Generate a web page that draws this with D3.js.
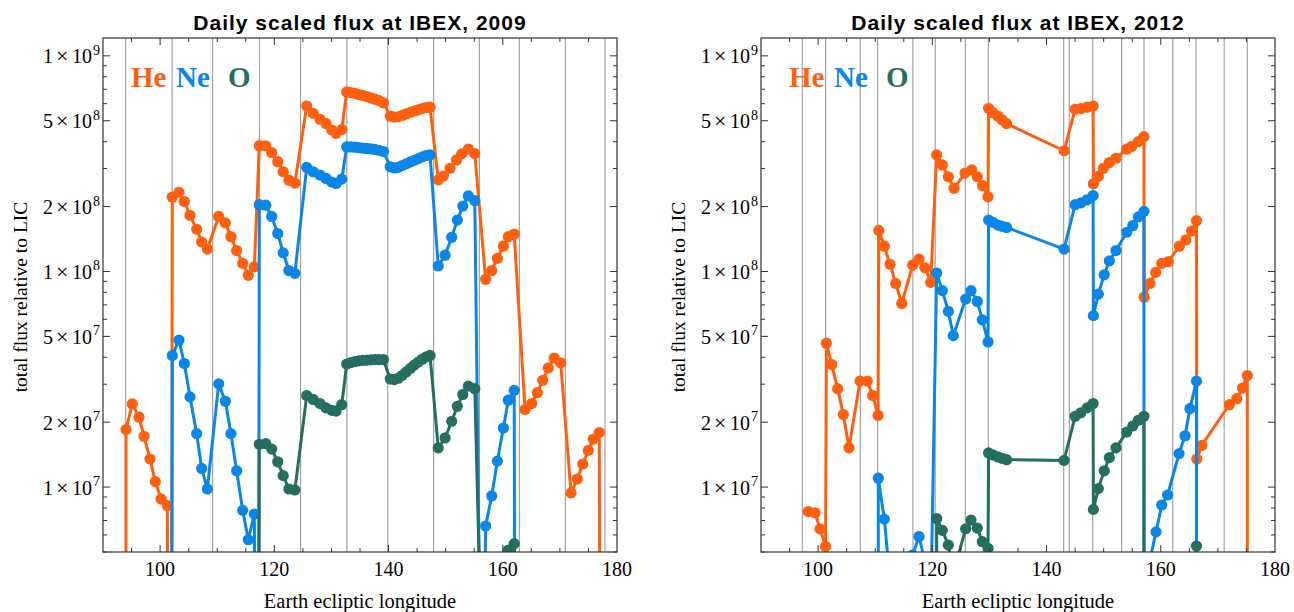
<!DOCTYPE html>
<html>
<head>
<meta charset="utf-8">
<script src="https://cdn.jsdelivr.net/npm/d3@7"></script>
<style>
  body { margin: 0; background: #fff; }
  svg { display: block; }
</style>
</head>
<body>
<svg id="chart" width="1294" height="612"></svg>
<script>
// ---- data ----
const xTicks = [100, 120, 140, 160, 180];
const yLabelTicks = [1e7, 2e7, 5e7, 1e8, 2e8, 5e8, 1e9];
const species = ["He", "Ne", "O"];
const titles = ["Daily scaled flux at IBEX, 2009", "Daily scaled flux at IBEX, 2012"];

// orbit boundaries (vertical grey lines), ecliptic longitude
const grid2009 = [93.97, 102.1, 109.2, 117.4, 124.6, 132.7, 139.85, 147.9, 155.9, 162.9, 170.95, 177.9];
const grid2012 = [97.23, 101.33, 107.39, 110.43, 116.6, 120.5, 125.77, 129.8, 143.0, 143.98,
  148.08, 153.16, 157.06, 162.1, 166.17, 171.1, 175.15];

// [longitude, flux] ; values far below the axis are days with (almost) no signal
const he2009 = [
  [93.98, 1e3], [94.03, 1.85e7], [95.13, 2.43e7], [96.3, 2.11e7], [97.18, 1.72e7], [98.23, 1.35e7],
  [99.16, 1.06e7], [100.16, 8.8e6], [101.27, 8.2e6], [101.75, 1e3],
  [102.14, 2.21e8], [103.3, 2.33e8], [104.24, 2.11e8], [105.23, 1.82e8], [106.4, 1.57e8], [107.28, 1.37e8], [108.27, 1.27e8],
  [110.26, 1.8e8], [111.42, 1.68e8], [112.4, 1.45e8], [113.4, 1.25e8], [114.46, 1.09e8], [115.44, 9.6e7], [116.5, 1.05e8],
  [117.37, 3.83e8], [118.5, 3.82e8], [119.54, 3.56e8], [120.6, 3.23e8], [121.55, 2.9e8], [122.55, 2.65e8], [123.6, 2.57e8],
  [125.67, 5.85e8], [126.8, 5.41e8], [128.0, 5.08e8], [129.05, 4.86e8], [130.05, 4.53e8], [130.8, 4.37e8], [131.8, 4.55e8],
  [132.67, 6.8e8], [133.4, 6.75e8], [134.1, 6.7e8], [134.8, 6.62e8], [135.5, 6.55e8], [136.2, 6.47e8], [136.9, 6.38e8],
  [137.6, 6.3e8], [138.3, 6.2e8], [139.1, 6.05e8],
  [140.3, 5.25e8], [141.0, 5.2e8], [141.7, 5.22e8], [142.4, 5.3e8], [143.1, 5.38e8], [143.8, 5.47e8], [144.5, 5.55e8],
  [145.2, 5.62e8], [145.9, 5.7e8], [146.6, 5.76e8], [147.26, 5.78e8],
  [148.7, 2.66e8], [149.6, 2.77e8], [150.76, 3.01e8], [151.9, 3.29e8], [152.8, 3.51e8], [153.97, 3.69e8], [155.1, 3.52e8],
  [157.0, 9.2e7], [158.06, 1.01e8], [159.05, 1.15e8], [160.1, 1.31e8], [160.97, 1.45e8], [162.0, 1.49e8],
  [163.9, 2.29e7], [165.06, 2.44e7], [166.05, 2.74e7], [167.0, 3.13e7], [167.97, 3.57e7], [169.0, 3.97e7], [170.14, 3.77e7],
  [171.95, 9.4e6], [173.05, 1.09e7], [174.0, 1.28e7], [174.98, 1.48e7], [175.85, 1.67e7], [176.9, 1.79e7], [177.3, 1e3]
];
const ne2009 = [
  [101.85, 1e3], [102.14, 4.08e7], [103.3, 4.8e7], [104.24, 3.74e7], [105.23, 2.62e7], [106.4, 1.77e7], [107.28, 1.22e7], [108.27, 9.8e6],
  [110.26, 3.01e7], [111.42, 2.5e7], [112.4, 1.77e7], [113.4, 1.19e7], [114.46, 7.8e6], [115.44, 5.7e6], [116.5, 7.5e6], [117.05, 1e3],
  [117.37, 2.04e8], [118.5, 2.03e8], [119.54, 1.8e8], [120.6, 1.5e8], [121.55, 1.22e8], [122.55, 1.01e8], [123.6, 9.8e7],
  [125.67, 3.04e8], [126.8, 2.9e8], [128.0, 2.8e8], [129.05, 2.7e8], [130.05, 2.6e8], [130.8, 2.56e8], [131.8, 2.68e8],
  [132.67, 3.78e8], [133.4, 3.78e8], [134.1, 3.77e8], [134.8, 3.75e8], [135.5, 3.73e8], [136.2, 3.72e8], [136.9, 3.7e8],
  [137.6, 3.68e8], [138.3, 3.65e8], [139.1, 3.6e8],
  [140.3, 3.06e8], [141.0, 3.02e8], [141.7, 3.04e8], [142.4, 3.1e8], [143.1, 3.16e8], [143.8, 3.22e8], [144.5, 3.28e8],
  [145.2, 3.34e8], [145.9, 3.4e8], [146.6, 3.45e8], [147.26, 3.47e8],
  [148.7, 1.06e8], [149.9, 1.19e8], [151.06, 1.44e8], [152.04, 1.73e8], [153.0, 2.01e8], [153.97, 2.24e8], [155.1, 2.13e8],
  [156.4, 3e5], [157.0, 6.6e6], [158.06, 9.1e6], [159.05, 1.32e7], [160.1, 1.88e7], [160.97, 2.53e7], [162.0, 2.81e7], [162.4, 1e3]
];
const o2009 = [
  [117.05, 1e3], [117.37, 1.58e7], [118.5, 1.59e7], [119.54, 1.5e7], [120.6, 1.31e7], [121.55, 1.13e7], [122.55, 9.8e6], [123.6, 9.7e6],
  [125.67, 2.66e7], [126.8, 2.55e7], [128.0, 2.44e7], [129.05, 2.33e7], [130.05, 2.27e7], [130.8, 2.25e7], [131.8, 2.41e7],
  [132.67, 3.72e7], [133.4, 3.78e7], [134.1, 3.82e7], [134.8, 3.85e7], [135.5, 3.87e7], [136.2, 3.88e7], [136.9, 3.89e7],
  [137.6, 3.9e7], [138.3, 3.9e7], [139.1, 3.9e7],
  [140.3, 3.17e7], [141.0, 3.15e7], [141.7, 3.2e7], [142.4, 3.3e7], [143.1, 3.42e7], [143.8, 3.55e7], [144.5, 3.68e7],
  [145.2, 3.8e7], [145.9, 3.92e7], [146.6, 4.02e7], [147.26, 4.08e7],
  [148.7, 1.52e7], [149.9, 1.69e7], [151.06, 2.02e7], [152.04, 2.37e7], [153.0, 2.69e7], [153.97, 2.94e7], [155.1, 2.86e7],
  [156.5, 1e6], [158.06, 3e6], [159.05, 3.8e6], [160.1, 4.7e6], [160.97, 5.1e6], [162.0, 5.47e6], [162.4, 1e3]
];

const he2012 = [
  [98.28, 7.7e6], [99.46, 7.6e6], [100.33, 6.4e6], [101.3, 5.3e6],
  [101.45, 4.65e7], [102.38, 3.7e7], [103.43, 2.86e7], [104.41, 2.17e7], [105.41, 1.52e7],
  [107.34, 3.1e7], [108.6, 3.1e7], [109.55, 2.66e7], [110.5, 2.15e7],
  [110.62, 1.55e8], [111.59, 1.31e8], [112.59, 1.08e8], [113.59, 8.8e7], [114.64, 7.1e7],
  [116.56, 1.07e8], [117.67, 1.14e8], [118.72, 1.04e8], [119.72, 8.9e7],
  [120.76, 3.47e8], [121.75, 3.12e8], [122.8, 2.75e8], [123.8, 2.43e8],
  [125.72, 2.86e8], [126.9, 2.96e8], [127.87, 2.75e8], [128.8, 2.5e8], [129.75, 2.22e8],
  [129.85, 5.71e8], [130.6, 5.45e8], [131.5, 5.25e8], [132.2, 5.05e8], [133.0, 4.85e8],
  [143.06, 3.63e8],
  [145.0, 5.65e8], [146.0, 5.7e8], [147.1, 5.78e8], [148.15, 5.85e8],
  [148.2, 2.55e8], [149.06, 2.76e8], [149.94, 3.01e8], [150.99, 3.2e8], [152.16, 3.35e8], [154.03, 3.69e8],
  [154.9, 3.8e8], [156.07, 4.0e8], [157.05, 4.22e8],
  [157.1, 7.6e7], [158.1, 8.8e7], [159.1, 9.9e7], [160.16, 1.09e8], [161.32, 1.11e8], [163.25, 1.31e8],
  [164.4, 1.4e8], [165.4, 1.54e8], [166.25, 1.72e8],
  [166.3, 1.35e7], [167.17, 1.56e7], [172.0, 2.41e7], [173.3, 2.57e7], [174.3, 2.88e7], [175.15, 3.29e7], [175.2, 1e3]
];
const ne2012 = [
  [110.5, 1e3], [110.54, 1.1e7], [111.59, 7.1e6], [112.59, 3.7e6], [113.59, 2e6], [114.64, 2e6],
  [116.56, 4.85e6], [117.67, 5.9e6], [118.72, 4.5e6], [119.72, 2.7e6],
  [120.76, 9.84e7], [121.75, 8.15e7], [122.8, 6.53e7], [123.67, 5.04e7],
  [125.84, 7.45e7], [126.77, 8.15e7], [127.87, 7.26e7], [128.75, 5.97e7], [129.75, 4.71e7],
  [129.85, 1.73e8], [130.6, 1.69e8], [131.5, 1.64e8], [132.2, 1.62e8], [133.0, 1.6e8],
  [143.06, 1.27e8],
  [145.0, 2.04e8], [146.0, 2.08e8], [147.1, 2.15e8], [148.15, 2.25e8],
  [148.2, 6.24e7], [149.06, 7.85e7], [150.1, 9.65e7], [150.99, 1.12e8], [152.16, 1.25e8], [154.03, 1.52e8],
  [155.1, 1.63e8], [156.07, 1.79e8], [157.05, 1.9e8], [157.1, 1e3],
  [158.1, 4.6e6], [159.17, 6.2e6], [160.16, 8.26e6], [161.2, 9.19e6], [163.2, 1.43e7], [164.25, 1.73e7],
  [165.1, 2.31e7], [166.25, 3.1e7], [166.3, 1e3]
];
const o2012 = [
  [120.7, 1e3], [120.76, 7.15e6], [121.75, 6.3e6], [122.8, 5.38e6], [123.67, 4.0e6],
  [125.84, 6.41e6], [126.77, 7.03e6], [127.87, 6.45e6], [128.75, 5.58e6], [129.75, 5.2e6],
  [129.85, 1.44e7], [130.6, 1.41e7], [131.5, 1.38e7], [132.2, 1.36e7], [133.0, 1.34e7],
  [143.06, 1.33e7],
  [145.0, 2.13e7], [146.0, 2.21e7], [147.1, 2.33e7], [148.15, 2.44e7],
  [148.2, 7.88e6], [149.06, 9.84e6], [150.1, 1.19e7], [150.99, 1.37e7], [152.16, 1.52e7], [154.03, 1.8e7],
  [155.1, 1.92e7], [156.07, 2.04e7], [157.05, 2.13e7], [157.1, 1e3],
  [166.25, 5.33e6], [166.3, 1e3]
];

// ---- drawing ----
const colors = { He: "#ff5f0f", Ne: "#0a86e8", O: "#246f5f" };
const svg = d3.select("#chart");
const plotW = 514, plotH = 514, plotTop = 38;
const serif = "'Liberation Serif', 'Times New Roman', serif";

const x = d3.scaleLinear().domain([90, 180]).range([0, plotW]);
const y = d3.scaleLog().domain([5e6, 1.21e9]).range([plotH, 0]);

// tick positions for the frame
const xMinor = d3.range(95, 180, 5);
const yMinor = [];
[1e6, 1e7, 1e8, 1e9].forEach(p => d3.range(1, 10).forEach(m => {
  const v = m * p;
  if (v >= 5e6 && v <= 1.21e9) yMinor.push(v);
}));

function drawPanel(left, title, grid, series, id) {
  const g = svg.append("g").attr("transform", `translate(${left},${plotTop})`);

  g.append("clipPath").attr("id", "clip" + id)
    .append("rect").attr("width", plotW).attr("height", plotH);

  // orbit lines
  g.append("g").selectAll("line").data(grid).join("line")
    .attr("x1", d => x(d)).attr("x2", d => x(d))
    .attr("y1", 0).attr("y2", plotH)
    .attr("stroke", "#9a9a9a").attr("stroke-width", 1.1);

  const line = d3.line().x(d => x(d[0])).y(d => y(d[1]));
  const plot = g.append("g").attr("clip-path", `url(#clip${id})`);
  series.forEach(([name, pts]) => {
    plot.append("path").datum(pts)
      .attr("d", line)
      .attr("fill", "none")
      .attr("stroke", colors[name])
      .attr("stroke-width", 3)
      .attr("stroke-linejoin", "round");
    plot.append("g").selectAll("circle").data(pts).join("circle")
      .attr("cx", d => x(d[0])).attr("cy", d => y(d[1]))
      .attr("r", 5.6)
      .attr("fill", colors[name]);
  });

  // frame
  g.append("rect").attr("width", plotW).attr("height", plotH)
    .attr("fill", "none").attr("stroke", "#333").attr("stroke-width", 1.2);

  const isMajorX = v => v % 20 === 0;
  const ticks = g.append("g").attr("stroke", "#333").attr("stroke-width", 1);
  xMinor.forEach(v => {
    const len = isMajorX(v) ? 7 : 4;
    ticks.append("line").attr("x1", x(v)).attr("x2", x(v)).attr("y1", plotH).attr("y2", plotH - len);
    ticks.append("line").attr("x1", x(v)).attr("x2", x(v)).attr("y1", 0).attr("y2", len);
  });
  yMinor.forEach(v => {
    const len = yLabelTicks.includes(v) ? 7 : 4;
    ticks.append("line").attr("x1", 0).attr("x2", len).attr("y1", y(v)).attr("y2", y(v));
    ticks.append("line").attr("x1", plotW).attr("x2", plotW - len).attr("y1", y(v)).attr("y2", y(v));
  });

  // x tick labels
  g.append("g").selectAll("text").data(xTicks).join("text")
    .attr("x", d => x(d)).attr("y", plotH + 24)
    .attr("text-anchor", "middle")
    .attr("font-family", serif).attr("font-size", 20)
    .text(d => d);

  // y tick labels  m×10^e
  yLabelTicks.forEach(v => {
    const e = Math.floor(Math.log10(v) + 1e-9);
    const m = Math.round(v / Math.pow(10, e));
    const t = g.append("text")
      .attr("x", -3).attr("y", y(v) + 7.5)
      .attr("text-anchor", "end")
      .attr("font-family", serif).attr("font-size", 20);
    t.append("tspan").text(m);
    t.append("tspan").attr("dx", 3).attr("font-size", 22).text("×");
    t.append("tspan").attr("dx", 3.5).text("10");
    t.append("tspan").attr("dx", 1).attr("dy", -8.5).attr("font-size", 14).text(e);
  });

  // axis titles
  g.append("text")
    .attr("x", plotW / 2).attr("y", plotH + 56)
    .attr("text-anchor", "middle")
    .attr("font-family", serif).attr("font-size", 20.5)
    .text("Earth ecliptic longitude");
  g.append("text")
    .attr("transform", `translate(-76,${plotH / 2 + 2}) rotate(-90)`)
    .attr("text-anchor", "middle")
    .attr("font-family", serif).attr("font-size", 19.5)
    .text("total flux relative to LIC");

  // title
  g.append("text")
    .attr("x", plotW / 2).attr("y", -8)
    .attr("text-anchor", "middle")
    .attr("font-family", "'Liberation Sans', Arial, sans-serif")
    .attr("font-weight", "bold").attr("font-size", 21)
    .attr("letter-spacing", 1)
    .text(title);

  // species legend
  const legendX = [28, 73, 125];
  species.forEach((s, i) => {
    g.append("text")
      .attr("x", legendX[i]).attr("y", 49)
      .attr("font-family", serif).attr("font-weight", "bold").attr("font-size", 29)
      .attr("fill", colors[s])
      .text(s);
  });
}

drawPanel(103, titles[0], grid2009, [["He", he2009], ["Ne", ne2009], ["O", o2009]], 0);
drawPanel(761, titles[1], grid2012, [["He", he2012], ["Ne", ne2012], ["O", o2012]], 1);
</script>
</body>
</html>
